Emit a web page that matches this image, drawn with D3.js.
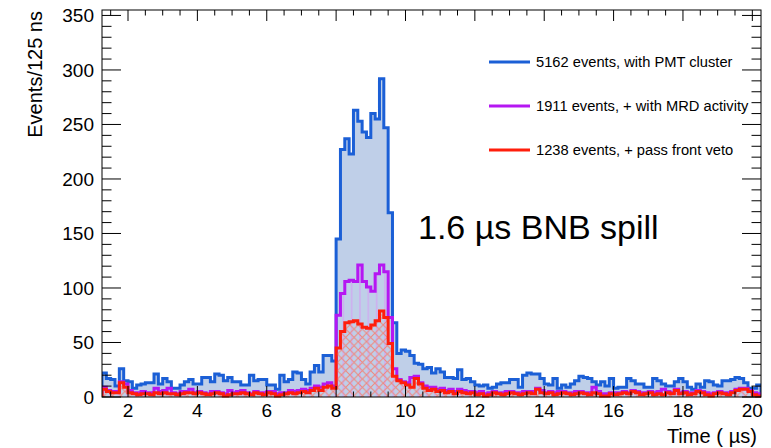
<!DOCTYPE html>
<html lang="en">
<head>
<meta charset="utf-8">
<title>Events per 125 ns</title>
<script src="https://d3js.org/d3.v7.min.js"></script>
<style>
  body { margin: 0; background: #fff; }
  svg { font-family: "Liberation Sans", Arial, Helvetica, sans-serif; }
</style>
</head>
<body>
<script>
// 125 ns bins, 1.25 .. 20.25 us
var binStart = 1.25, binWidth = 0.125;

var pmtCounts = [
  22, 17, 16, 10, 26, 15, 14, 8, 11, 12, 13, 13, 21, 12, 17, 14, 8, 8, 11, 14,
  16, 12, 12, 18, 18, 14, 21, 20, 15, 18, 14, 14, 11, 11, 20, 15, 16, 16, 11, 11,
  7, 20, 14, 16, 23, 22, 16, 12, 23, 29, 23, 38, 38, 33,
  145, 227, 237, 223, 263, 253, 243, 238, 260, 255, 292, 247, 169, 68,
  40, 43, 42, 38, 31, 30, 26, 27, 22, 26, 23, 18, 18, 17, 25, 16, 17, 14, 11, 10,
  11, 8, 9, 12, 13, 13, 16, 16, 9, 20, 22,
  21, 21, 17, 12, 11, 17, 8, 11, 9, 12, 15, 19, 18, 17, 14, 11, 14, 10, 17, 8,
  9, 9, 17, 15, 12,
  12, 9, 9, 17, 15, 12, 10, 10, 14, 17, 14, 9, 7, 12, 9, 15, 14, 11, 10, 15,
  15, 16, 18, 17, 13, 8, 8, 11
];

var mrdCounts = [
  9, 6, 5, 5, 14, 12, 6, 4, 4, 5, 4, 4, 8, 5, 6, 8, 4, 3, 5, 5,
  7, 4, 5, 4, 3, 5, 5, 4, 3, 6, 4, 5, 6, 4, 3, 5, 4, 4, 5, 5,
  3, 4, 4, 6, 5, 6, 7, 6, 8, 10, 9, 12, 13, 10,
  75, 95, 106, 107, 106, 121, 106, 101, 97, 113, 121, 115, 73, 26,
  16, 14, 13, 18, 19, 13, 10, 9, 9, 7, 8, 6, 7, 5, 7, 6, 5, 5, 4, 5,
  3, 4, 5, 4, 4, 5, 5, 4, 4, 5, 5,
  5, 8, 6, 4, 5, 4, 5, 5, 4, 4, 5, 5, 4, 4, 9, 5, 3, 3, 4, 4,
  4, 5, 4, 6, 5,
  4, 4, 5, 4, 5, 7, 5, 4, 7, 4, 5, 4, 4, 6, 5, 4, 3, 4, 5, 4,
  4, 5, 7, 8, 8, 6, 4, 3
];

var vetoCounts = [
  7, 5, 4, 4, 13, 9, 4, 3, 2, 3, 3, 2, 4, 3, 4, 3, 3, 2, 3, 4,
  4, 3, 4, 3, 2, 3, 4, 3, 1, 2, 3, 3, 4, 3, 2, 4, 3, 2, 4, 3,
  1, 2, 3, 4, 3, 4, 5, 4, 6, 8, 6, 9, 10, 8,
  45, 60, 68, 69, 70, 67, 64, 63, 66, 70, 79, 73, 49, 19,
  15, 13, 11, 9, 17, 12, 8, 6, 7, 5, 6, 4, 5, 3, 5, 4, 3, 4, 2, 3,
  1, 2, 4, 3, 2, 3, 4, 3, 2, 3, 4,
  3, 7, 4, 3, 4, 2, 3, 4, 3, 2, 3, 4, 3, 2, 4, 3, 1, 1, 3, 2,
  3, 4, 3, 5, 4,
  2, 3, 4, 2, 3, 2, 4, 3, 6, 3, 4, 2, 3, 5, 4, 2, 1, 3, 4, 3,
  2, 4, 6, 7, 7, 5, 2, 1
];

var xTicks = [2, 4, 6, 8, 10, 12, 14, 16, 18, 20];
var yTicks = [0, 50, 100, 150, 200, 250, 300, 350];
var legendLabels = ["5162 events, with PMT cluster", "1911 events, + with MRD activity", "1238 events, + pass front veto"];

var W = 771, H = 448;
var plotL = 102, plotR = 761, plotT = 10, plotB = 397;
var nBins = pmtCounts.length;
var binEnd = binStart + nBins * binWidth;

var x = d3.scaleLinear().domain([binStart, binEnd]).range([plotL, plotR]);
var y = d3.scaleLinear().domain([0, 355]).range([plotB, plotT]);

var blue = "#1b5fd6", blueFill = "#bfcfe8";
var purple = "#b517f2", red = "#ff1e0c";

var svg = d3.select("body").append("svg").attr("width", W).attr("height", H);
var defs = svg.append("defs");

defs.append("clipPath").attr("id", "frameClip")
  .append("rect").attr("x", plotL).attr("y", plotT).attr("width", plotR - plotL).attr("height", plotB - plotT + 2);

var vPat = defs.append("pattern").attr("id", "vlines").attr("patternUnits", "userSpaceOnUse")
  .attr("width", 8.33).attr("height", 10);
vPat.append("line").attr("x1", 1.8).attr("x2", 1.8).attr("y1", 0).attr("y2", 10)
  .attr("stroke", "#d69cf4").attr("stroke-width", 1);

var xPat = defs.append("pattern").attr("id", "xhatch").attr("patternUnits", "userSpaceOnUse")
  .attr("width", 8.33).attr("height", 8.33);
xPat.append("path").attr("d", "M0,0L8.33,8.33M8.33,0L0,8.33")
  .attr("stroke", "#f0867c").attr("stroke-width", 1).attr("fill", "none");

function points(counts) {
  var pts = [[binStart, 0]];
  counts.forEach(function(c, i) { pts.push([binStart + i * binWidth, c]); });
  pts.push([binEnd, counts[counts.length - 1]]);
  pts.push([binEnd, 0]);
  return pts;
}

var line = d3.line().curve(d3.curveStepAfter).x(function(d) { return x(d[0]); }).y(function(d) { return y(d[1]); });
var area = d3.area().curve(d3.curveStepAfter).x(function(d) { return x(d[0]); }).y0(y(0)).y1(function(d) { return y(d[1]); });

var plot = svg.append("g").attr("clip-path", "url(#frameClip)");

var series = [
  { counts: pmtCounts, fill: blueFill, stroke: blue },
  { counts: mrdCounts, fill: "url(#vlines)", stroke: purple },
  { counts: vetoCounts, fill: "url(#xhatch)", stroke: red }
];

series.forEach(function(s) {
  plot.append("path").attr("d", area(points(s.counts))).attr("fill", s.fill).attr("stroke", "none");
  plot.append("path").attr("d", line(points(s.counts))).attr("fill", "none")
    .attr("stroke", s.stroke).attr("stroke-width", 3).attr("stroke-linejoin", "miter");
});

// frame
svg.append("rect").attr("x", plotL).attr("y", plotT).attr("width", plotR - plotL).attr("height", plotB - plotT)
  .attr("fill", "none").attr("stroke", "#000").attr("stroke-width", 1);

// ticks (ROOT style, inside, on all four sides)
var yMinor = d3.range(0, 351, 10);
var xMinor = d3.range(1.5, 20.01, 0.5);
var tk = svg.append("g").attr("stroke", "#000").attr("stroke-width", 1);
yMinor.forEach(function(v) {
  var len = v % 50 === 0 ? 19 : 9.5;
  tk.append("line").attr("x1", plotL).attr("x2", plotL + len).attr("y1", y(v)).attr("y2", y(v));
  tk.append("line").attr("x1", plotR).attr("x2", plotR - len).attr("y1", y(v)).attr("y2", y(v));
});
xMinor.forEach(function(v) {
  var len = v % 2 === 0 ? 11 : 5.5;
  tk.append("line").attr("x1", x(v)).attr("x2", x(v)).attr("y1", plotB).attr("y2", plotB - len);
  tk.append("line").attr("x1", x(v)).attr("x2", x(v)).attr("y1", plotT).attr("y2", plotT + len);
});

// tick labels
svg.append("g").selectAll("text").data(yTicks).join("text")
  .attr("x", plotL - 8).attr("y", function(d) { return y(d); }).attr("dy", "0.36em")
  .attr("text-anchor", "end").attr("font-size", 19).text(function(d) { return d; });

svg.append("g").selectAll("text").data(xTicks).join("text")
  .attr("x", function(d) { return x(d); }).attr("y", 417)
  .attr("text-anchor", "middle").attr("font-size", 19).text(function(d) { return d; });

// axis titles
svg.append("text").attr("transform", "translate(42,11) rotate(-90)")
  .attr("text-anchor", "end").attr("font-size", 20).text("Events/125 ns");

var xt = svg.append("text").attr("x", 757).attr("y", 443).attr("text-anchor", "end").attr("font-size", 20);
xt.append("tspan").text("Time (");
xt.append("tspan").attr("dx", 6).text("µs)");

// legend
var legY = [62, 106, 150];
var legColors = [blue, purple, red];
legendLabels.forEach(function(t, i) {
  svg.append("line").attr("x1", 489).attr("x2", 530).attr("y1", legY[i]).attr("y2", legY[i])
    .attr("stroke", legColors[i]).attr("stroke-width", 3);
  svg.append("text").attr("x", 536).attr("y", legY[i]).attr("dy", "0.36em")
    .attr("font-size", 14.7).text(t);
});

// annotation
svg.append("text").attr("x", 418).attr("y", 239).attr("font-size", 34).text("1.6 µs BNB spill");
</script>
</body>
</html>
